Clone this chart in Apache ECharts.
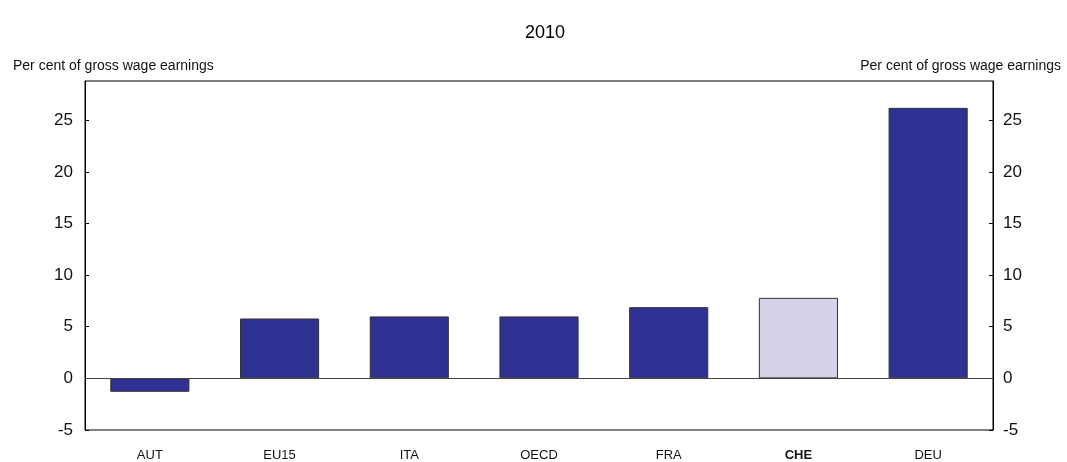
<!DOCTYPE html>
<html>
<head>
<meta charset="utf-8">
<script src="https://cdn.jsdelivr.net/npm/echarts@6/dist/echarts.min.js"></script>
<style>
  html, body { margin: 0; padding: 0; background: #fff; }
  #chart { width: 1067px; height: 462px; }
</style>
</head>
<body>
<div id="chart"></div>
<script>
// data
const countries = ["AUT", "EU15", "ITA", "OECD", "FRA", "CHE", "DEU"];
const values = [-1.3, 5.8, 6.0, 6.0, 6.9, 7.8, 26.2];
const highlight = "CHE";

const navy = "#2E3192";
const light = "#D4D3EA";

let chart = echarts.init(document.getElementById("chart"));

const yAxisBase = {
  type: "value",
  min: -5,
  max: 28.8,
  interval: 5,
  splitLine: { show: false },
  axisLine: { show: true, lineStyle: { color: "#000" } },
  axisTick: { show: true, inside: true, length: 4, lineStyle: { color: "#000" } },
  axisLabel: {
    color: "#111",
    fontSize: 17,
    fontFamily: "Liberation Sans",
    showMaxLabel: false
  }
};

chart.setOption({
  animation: false,
  title: [
    {
      text: "2010",
      left: 520,
      top: 19,
      textStyle: { fontSize: 18, fontWeight: "normal", color: "#000", fontFamily: "Liberation Sans" }
    },
    {
      text: "Per cent of gross wage earnings",
      left: 8,
      top: 54,
      textStyle: { fontSize: 14, fontWeight: "normal", color: "#111", fontFamily: "Liberation Sans" }
    },
    {
      text: "Per cent of gross wage earnings",
      right: 1,
      top: 54,
      textStyle: { fontSize: 14, fontWeight: "normal", color: "#111", fontFamily: "Liberation Sans" }
    }
  ],
  grid: {
    left: 85,
    right: 74,
    top: 81,
    bottom: 32,
    show: true,
    borderColor: "#000",
    borderWidth: 1
  },
  xAxis: {
    type: "category",
    data: countries,
    axisLine: { show: false },
    axisTick: { show: false },
    axisLabel: {
      margin: 19,
      fontSize: 13,
      fontFamily: "Liberation Sans",
      color: "#111",
      formatter: function (v) {
        return v === highlight ? "{b|" + v + "}" : v;
      },
      rich: { b: { fontWeight: "bold", fontSize: 13, fontFamily: "Liberation Sans", color: "#111" } }
    }
  },
  yAxis: [
    Object.assign({}, yAxisBase, { position: "left", axisLabel: Object.assign({}, yAxisBase.axisLabel, { margin: 12 }) }),
    Object.assign({}, yAxisBase, { position: "right", axisLabel: Object.assign({}, yAxisBase.axisLabel, { margin: 10 }) })
  ],
  series: [
    {
      type: "bar",
      yAxisIndex: 0,
      barCategoryGap: "39%",
      data: values.map(function (v, i) {
        return {
          value: v,
          itemStyle: { color: countries[i] === highlight ? light : navy }
        };
      }),
      itemStyle: { borderColor: "#333", borderWidth: 1 },
      markLine: {
        silent: true,
        symbol: "none",
        label: { show: false },
        lineStyle: { color: "#444", width: 1, type: "solid" },
        data: [{ yAxis: 0 }]
      }
    }
  ]
});
</script>
</body>
</html>
